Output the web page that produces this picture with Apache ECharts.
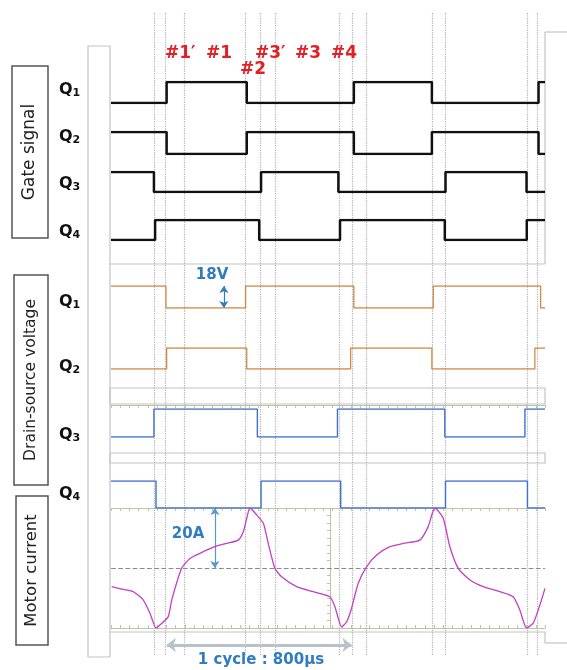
<!DOCTYPE html>
<html>
<head>
<meta charset="utf-8">
<script src="https://cdn.jsdelivr.net/npm/echarts@6/dist/echarts.min.js"></script>
<style>
  html, body { margin: 0; padding: 0; background: #fff; }
  #chart { width: 567px; height: 670px; }
</style>
</head>
<body>
<div id="chart"></div>
<script>
// time axis in microseconds
const xMax = 1880
const cycleStart = 242
const cycleLen = 800

// dotted marker lines at the switching instants (us)
const markTimes = [186, 237, 317, 583, 645, 713, 989, 1045, 1107, 1391, 1447, 1804, 1848]

// gate signals: [time us, level 0/1]
const gateQ1 = [[0, 0], [241, 1], [588, 0], [1052, 1], [1390, 0], [1852, 1], [1880, 1]]
const gateQ2 = [[0, 1], [241, 0], [588, 1], [1052, 0], [1390, 1], [1852, 0], [1880, 0]]
const gateQ3 = [[0, 1], [186, 0], [650, 1], [985, 0], [1449, 1], [1800, 0], [1880, 0]]
const gateQ4 = [[0, 0], [191, 1], [642, 0], [992, 1], [1446, 0], [1801, 1], [1880, 1]]

// drain-source voltage: [time us, volts]
const dsQ1 = [[0, 18], [238, 0], [583, 18], [1052, 0], [1396, 18], [1861, 0], [1880, 0]]
const dsQ2 = [[0, 0], [241, 18], [588, 0], [1038, 18], [1390, 0], [1836, 18], [1880, 18]]
const dsQ3 = [[0, 0], [186, 18], [634, 0], [981, 18], [1446, 0], [1793, 18], [1880, 18]]
const dsQ4 = [[0, 18], [195, 0], [650, 18], [995, 0], [1449, 18], [1804, 0], [1880, 0]]

// motor current
const currentT = [3, 53, 97, 140, 169, 195, 212, 248, 263, 306, 342, 385, 450, 501, 551, 573, 588, 602, 631, 660, 681, 710, 739, 804, 876, 948, 970, 999, 1021, 1042, 1071, 1107, 1151, 1208, 1266, 1338, 1374, 1403, 1439, 1468, 1504, 1555, 1612, 1684, 1742, 1771, 1800, 1829, 1858, 1880]
const currentA = [13.8, 12.9, 12.1, 9.3, 4.9, 0, 1.0, 3.8, 9.3, 19.9, 23.2, 24.9, 27.1, 28.2, 29.3, 32.1, 36.6, 40, 37.7, 34.9, 28.2, 19.9, 17.1, 13.8, 12.1, 10.4, 7.1, 0.4, 2.1, 6.6, 14.9, 20.4, 24.3, 27.1, 28.2, 29.3, 33.8, 40, 36.6, 27.1, 19.9, 16, 13.8, 12.1, 10.4, 6, 0, 1.6, 7.7, 13.2]

const rowLabels = ['1', '2', '3', '4']

const FONT = 'DejaVu Sans'
const RED = '#e31e24'
const BLUE = '#2f7cc0'
const FRAME = '#c4c4c4'
const SCOPE = '#c2c2a4'

const chart = echarts.init(document.getElementById('chart'))

// grid layout: 0 overlay, 1-4 gate, 5-8 drain-source, 9 current, 10 cycle arrow
const gridBoxes = [
  [12, 643], [82, 21], [132, 22], [172, 20], [220, 20],
  [286, 22], [348, 21], [409, 28], [481, 27], [508, 120], [640, 10],
]
const yRanges = [[0, 1], [0, 1], [0, 1], [0, 1], [0, 1], [0, 18], [0, 18], [0, 18], [0, 18], [0, 40], [0, 1]]

const grid = gridBoxes.map(([top, height]) => ({ left: 111, width: 434, top, height }))
const xAxis = grid.map((g, i) => ({ type: 'value', gridIndex: i, min: 0, max: xMax, show: false }))
const yAxis = yRanges.map(([min, max], i) => ({ type: 'value', gridIndex: i, min, max, show: false }))

const tickRow = (gridIndex, position, offset) => ({
  type: 'value', gridIndex, position, offset, min: 0, max: xMax, interval: 40,
  axisLine: { show: true, lineStyle: { color: SCOPE, width: 1 } },
  axisTick: { show: true, inside: true, length: 3, lineStyle: { color: SCOPE } },
  axisLabel: { show: false }, splitLine: { show: false },
})
xAxis.push(tickRow(9, 'bottom', 0), tickRow(9, 'top', 0), tickRow(7, 'top', 4))
yAxis.push({
  type: 'value', gridIndex: 9, position: 'left', offset: -219, min: 0, max: 40, interval: 2.5,
  axisLine: { show: true, lineStyle: { color: SCOPE } },
  axisTick: { show: true, length: 3, lineStyle: { color: SCOPE } },
  axisLabel: { show: false }, splitLine: { show: false },
})

const trace = (idx, data, color, width) => ({
  type: 'line', xAxisIndex: idx, yAxisIndex: idx, data, step: 'end', symbol: 'none',
  lineStyle: { color, width }, z: 5, silent: true,
})

const arrow = (idx, from, to, color, width, size) => ({
  type: 'line', xAxisIndex: idx, yAxisIndex: idx, data: [], silent: true, z: 6,
  markLine: {
    silent: true, symbol: ['arrow', 'arrow'], symbolSize: size, label: { show: false },
    lineStyle: { color, width, type: 'solid' },
    data: [[{ coord: from }, { coord: to }]],
  },
})

const series = [
  {
    type: 'line', xAxisIndex: 0, yAxisIndex: 0, data: [[0, 0]], symbol: 'none',
    lineStyle: { opacity: 0 }, silent: true, z: 1,
    markLine: {
      silent: true, symbol: 'none', label: { show: false },
      lineStyle: { type: 'dotted', color: '#b0b0b0', width: 1.2 },
      data: markTimes.map((t) => ({ xAxis: t })),
    },
  },
  trace(1, gateQ1, '#111', 2.5),
  trace(2, gateQ2, '#111', 2.5),
  trace(3, gateQ3, '#111', 2.5),
  trace(4, gateQ4, '#111', 2.5),
  trace(5, dsQ1, '#d08a45', 1.3),
  trace(6, dsQ2, '#d08a45', 1.3),
  trace(7, dsQ3, '#3f6fcf', 1.4),
  trace(8, dsQ4, '#3f6fcf', 1.4),
  {
    type: 'line', xAxisIndex: 9, yAxisIndex: 9, symbol: 'none', silent: true, z: 5,
    data: currentT.map((t, i) => [t, currentA[i]]),
    smooth: 0.2,
    lineStyle: { color: '#c23fc6', width: 1.3 },
    markLine: {
      silent: true, symbol: 'none', label: { show: false },
      lineStyle: { type: 'dashed', color: '#8a8a8a', width: 1.2 },
      data: [{ yAxis: 20 }],
    },
  },
  arrow(5, [489, 18], [489, 0], BLUE, 1.2, 7),
  arrow(9, [450, 40], [450, 20], '#5b97cf', 1.2, 7),
  arrow(10, [cycleStart, 0.5], [cycleStart + cycleLen, 0.5], '#b7c2cc', 3, [11, 9]),
]

// decorative frame and labels
const graphic = []
const line = (x1, y1, x2, y2, color, w) => graphic.push({
  type: 'line', shape: { x1, y1, x2, y2 }, style: { stroke: color || FRAME, lineWidth: w || 1.2 }, z: 3,
})
const box = (x, y, width, height, stroke, w) => graphic.push({
  type: 'rect', shape: { x, y, width, height }, style: { fill: 'none', stroke, lineWidth: w }, z: 3,
})
const text = (x, y, str, style, extra) => graphic.push(Object.assign({
  type: 'text', x, y, style: Object.assign({ text: str, fontFamily: FONT }, style), z: 10,
}, extra || {}))

box(88, 46, 22, 611, FRAME, 1.2)
line(110, 264, 545, 264)
line(545, 32, 545, 264)
line(545, 32, 567, 32)
line(110, 632, 545, 632)
line(545, 632, 545, 643)
line(545, 643, 567, 643)
box(110, 388, 435, 16, FRAME, 1.2)
box(110, 453, 435, 10, FRAME, 1.2)

// section boxes with rotated titles
const sections = [
  ['Gate signal', 12, 66, 36, 172, 17],
  ['Drain-source voltage', 14, 275, 34, 210, 15.5],
  ['Motor current', 16, 496, 32, 149, 16.5],
]
sections.forEach(([label, x, y, w, h, fs]) => {
  box(x, y, w, h, '#555', 1.5)
  text(x + w / 2, y + h / 2, label, {
    fontSize: fs, fill: '#222', align: 'center', verticalAlign: 'middle',
  }, { rotation: Math.PI / 2 })
})

// Q labels
const qRich = {
  q: { fontSize: 16, fontWeight: 'bold', fontFamily: FONT, fill: '#111' },
  s: { fontSize: 11, fontWeight: 'bold', fontFamily: FONT, fill: '#111', padding: [7, 0, 0, 0] },
}
const gateQy = [90, 137, 184, 232]
const dsQy = [302, 367, 435, 494]
rowLabels.forEach((n, i) => {
  text(59, gateQy[i], `{q|Q}{s|${n}}`, { rich: qRich, verticalAlign: 'middle' })
  text(59, dsQy[i], `{q|Q}{s|${n}}`, { rich: qRich, verticalAlign: 'middle' })
})

// switching interval tags
const tagStyle = { fontSize: 17, fontWeight: 'bold', fill: RED }
text(165, 45, '#1\u2032', tagStyle)
text(206, 45, '#1', tagStyle)
text(240, 61, '#2', tagStyle)
text(255, 45, '#3\u2032', tagStyle)
text(295, 45, '#3', tagStyle)
text(331, 45, '#4', tagStyle)

// annotations
const noteStyle = { fontSize: 15, fontWeight: 'bold', fill: BLUE, align: 'center', verticalAlign: 'middle' }
text(212, 275, '18V', noteStyle)
text(188, 534, '20A', noteStyle)
text(261, 660, '1 cycle : 800\u00b5s', noteStyle)

chart.setOption({
  animation: false,
  backgroundColor: '#fff',
  grid,
  xAxis,
  yAxis,
  series,
  graphic,
})
</script>
</body>
</html>
